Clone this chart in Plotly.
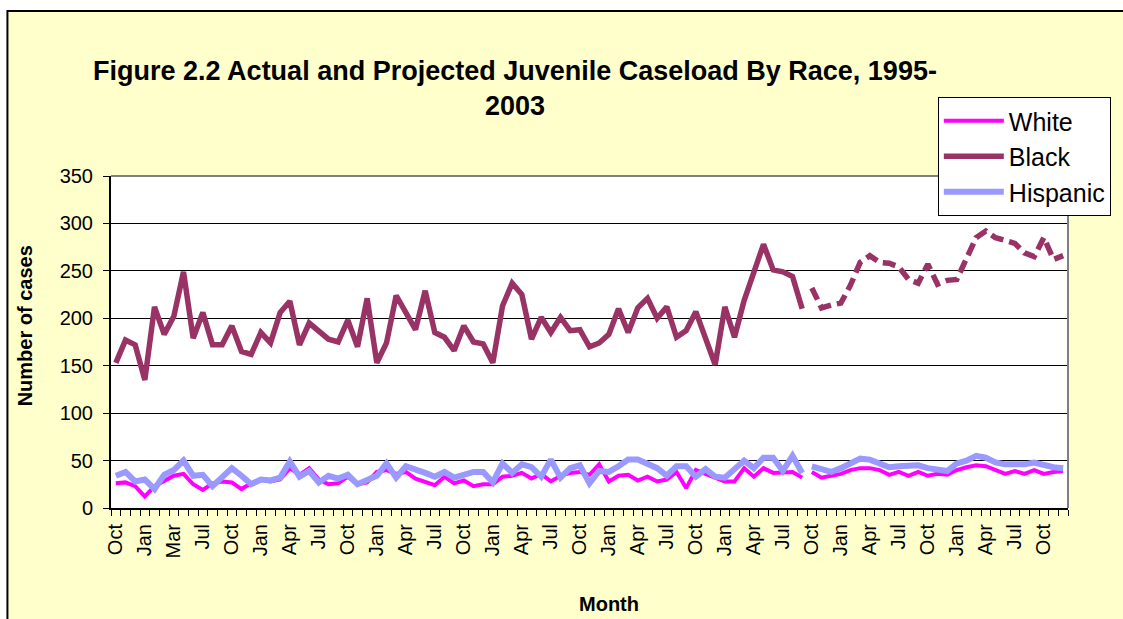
import plotly.graph_objects as go

# ---- data ----
tick_labels = ["Oct", "Jan", "Mar", "Jul", "Oct", "Jan", "Apr", "Jul", "Oct", "Jan", "Apr",
               "Jul", "Oct", "Jan", "Apr", "Jul", "Oct", "Jan", "Apr", "Jul", "Oct", "Jan",
               "Apr", "Jul", "Oct", "Jan", "Apr", "Jul", "Oct", "Jan", "Apr", "Jul", "Oct"]

# actual monthly caseload, Oct 1995 - Sep 2001 (72 months)
white_actual = [26, 27, 23, 12, 23, 28, 34, 36, 25, 19, 26, 28, 27, 20, 26, 30, 28, 30,
                42, 35, 42, 30, 25, 26, 33, 25, 27, 38, 40, 36, 38, 31, 28, 24, 33, 26,
                29, 23, 25, 25, 33, 34, 37, 31, 36, 28, 34, 37, 38, 35, 46, 28, 34, 35,
                29, 33, 28, 30, 38, 21, 40, 36, 33, 28, 28, 42, 33, 42, 37, 37, 38, 32]
black_actual = [153, 177, 172, 135, 212, 183, 202, 249, 179, 206, 172, 172, 192, 165, 162,
                185, 174, 206, 218, 172, 195, 186, 178, 175, 198, 170, 221, 153, 174, 224,
                206, 188, 229, 185, 180, 166, 192, 175, 173, 153, 213, 237, 225, 178, 201,
                185, 201, 187, 188, 170, 174, 183, 210, 185, 211, 221, 200, 212, 180, 187,
                207, 179, 151, 212, 180, 219, 250, 278, 251, 249, 244, 210]
hispanic_actual = [34, 38, 28, 30, 20, 35, 40, 50, 34, 35, 23, 33, 42, 34, 25, 30, 29, 32,
                   49, 33, 39, 27, 34, 31, 35, 25, 30, 34, 47, 32, 44, 41, 37, 33, 38, 32,
                   35, 38, 38, 27, 47, 37, 46, 43, 33, 51, 32, 42, 45, 26, 39, 38, 44, 51,
                   51, 47, 42, 34, 44, 44, 33, 41, 33, 32, 42, 50, 42, 53, 53, 39, 55, 37]

# projected monthly caseload, Oct 2001 - Dec 2003 (27 months)
white_proj = [38, 32, 34, 36, 40, 42, 42, 40, 35, 38, 34, 38, 34, 36, 35, 40, 43, 45,
              44, 40, 36, 39, 36, 40, 36, 38, 39]
black_proj = [232, 211, 214, 216, 235, 259, 266, 259, 258, 254, 241, 237, 257, 236, 240,
              241, 263, 285, 292, 285, 282, 279, 269, 265, 285, 262, 266]
hispanic_proj = [44, 41, 38, 42, 47, 52, 51, 47, 43, 44, 44, 45, 42, 40, 39, 47, 50, 55,
                 53, 48, 46, 46, 46, 48, 45, 43, 42]

# ---- layout helpers ----
n_act = len(white_actual)
n_all = n_act + len(white_proj)
x_act = list(range(n_act))
x_proj = list(range(n_act, n_all))
tick_pos = list(range(0, n_all, 3))[:len(tick_labels)]

FONT = "Liberation Sans, Arial, sans-serif"
C_WHITE = "#FF00FF"
C_BLACK = "#993366"
C_HISP = "#9999FF"
W_WHITE, W_BLACK, W_HISP = 4, 5.5, 6

W, H = 1123, 619
L, R, T, B = 111, 51, 176, 111
pw, ph = W - L - R, H - T - B


def px_x(p):
    return (p - L) / pw


def px_y(p):
    return (H - B - p) / ph


fig = go.Figure()

fig.add_trace(go.Scatter(x=x_act, y=white_actual, mode="lines", name="White",
                         legendgroup="w", line=dict(color=C_WHITE, width=W_WHITE)))
fig.add_trace(go.Scatter(x=x_act, y=black_actual, mode="lines", name="Black",
                         legendgroup="b", line=dict(color=C_BLACK, width=W_BLACK)))
fig.add_trace(go.Scatter(x=x_act, y=hispanic_actual, mode="lines", name="Hispanic",
                         legendgroup="h", line=dict(color=C_HISP, width=W_HISP)))
fig.add_trace(go.Scatter(x=x_proj, y=white_proj, mode="lines", name="White",
                         legendgroup="w", showlegend=False,
                         line=dict(color=C_WHITE, width=W_WHITE)))
fig.add_trace(go.Scatter(x=x_proj, y=black_proj, mode="lines", name="Black",
                         legendgroup="b", showlegend=False,
                         line=dict(color=C_BLACK, width=W_BLACK, dash="13px,6px")))
fig.add_trace(go.Scatter(x=x_proj, y=hispanic_proj, mode="lines", name="Hispanic",
                         legendgroup="h", showlegend=False,
                         line=dict(color=C_HISP, width=W_HISP)))

fig.update_layout(
    width=W, height=H,
    margin=dict(l=L, r=R, t=T, b=B, pad=0),
    paper_bgcolor="white",
    plot_bgcolor="white",
    font=dict(family=FONT, color="black"),
    title=dict(
        text="<b>Figure 2.2 Actual and Projected Juvenile Caseload By Race, 1995-<br>2003</b>",
        font=dict(family=FONT, size=27, color="black"),
        xref="container", x=515 / W, xanchor="center",
        yref="container", y=1 - 80 / H, yanchor="middle",
    ),
    legend=dict(
        x=px_x(1115), xanchor="right", y=px_y(97), yanchor="top",
        bgcolor="white", bordercolor="black", borderwidth=1,
        font=dict(family=FONT, size=25, color="black"),
        tracegroupgap=0, itemwidth=60,
    ),
    xaxis=dict(
        range=[-0.5, n_all - 0.5],
        tickmode="array", tickvals=tick_pos, ticktext=tick_labels,
        tickangle=-90, ticks="outside", ticklen=6, tickcolor="rgba(0,0,0,0)",
        tickfont=dict(family=FONT, size=20, color="black"),
        showgrid=False, zeroline=False,
        showline=True, linecolor="black", linewidth=2,
        minor=dict(tickmode="linear", tick0=-0.5, dtick=1, ticks="outside",
                   ticklen=6, tickwidth=1, tickcolor="black", showgrid=False),
    ),
    yaxis=dict(
        range=[0, 350], tick0=0, dtick=50,
        ticks="outside", ticklen=6, tickcolor="black", tickwidth=1,
        tickfont=dict(family=FONT, size=20, color="black"),
        ticklabelstandoff=6,
        showgrid=True, gridcolor="black", gridwidth=1,
        zeroline=False,
        showline=True, linecolor="black", linewidth=2,
    ),
    shapes=[
        dict(type="rect", xref="paper", yref="paper", layer="below",
             x0=px_x(7), x1=px_x(1140), y0=px_y(650), y1=px_y(11),
             fillcolor="#FFFFCC", line=dict(color="black", width=2)),
        dict(type="rect", xref="paper", yref="paper", layer="below",
             x0=0, x1=1, y0=0, y1=1, fillcolor="white", line=dict(width=0)),
        dict(type="line", xref="paper", yref="paper", layer="above",
             x0=0, x1=1, y0=1, y1=1, line=dict(color="#808080", width=2)),
        dict(type="line", xref="paper", yref="paper", layer="above",
             x0=1, x1=1, y0=0, y1=1, line=dict(color="#808080", width=2)),
    ],
    annotations=[
        dict(text="<b>Number of cases</b>", xref="paper", yref="paper",
             x=px_x(25), y=px_y(326), xanchor="center", yanchor="middle",
             textangle=-90, showarrow=False,
             font=dict(family=FONT, size=20, color="black")),
        dict(text="<b>Month</b>", xref="paper", yref="paper",
             x=px_x(611), y=px_y(604), xanchor="center", yanchor="middle",
             showarrow=False, font=dict(family=FONT, size=20, color="black")),
    ],
)

fig.write_html("out.html")
